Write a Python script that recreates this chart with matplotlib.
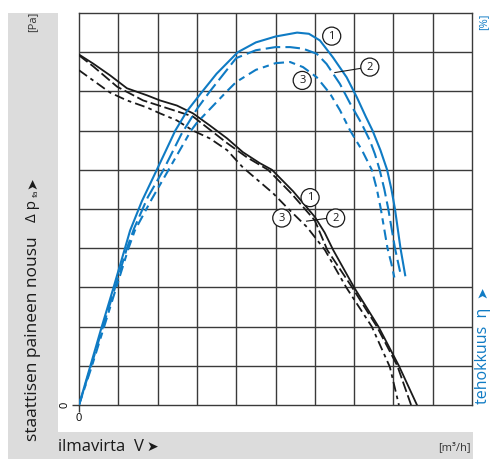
import matplotlib.pyplot as plt
from matplotlib.patches import Rectangle, Circle

W, H = 492, 459
BLUE = '#0f7bc4'
GRAY = '#dcdcdc'

# pressure curves (grid units: x = air flow, y = static pressure rise)
p1_x = [0, 0.36, 0.79, 1.22, 1.73, 2.06, 2.49, 2.9, 3.33, 3.77, 4.17, 4.6, 4.91, 5.45, 6.0, 6.25, 6.47, 7.0, 7.62, 8.14, 8.6]
p1_y = [8.94, 8.71, 8.41, 8.08, 7.9, 7.77, 7.64, 7.44, 7.13, 6.8, 6.45, 6.17, 6.0, 5.45, 4.8, 4.4, 3.95, 3.0, 2.0, 1.0, 0]
p2_x = [0, 0.36, 0.97, 1.63, 2.9, 3.77, 4.27, 4.81, 5.4, 6.0, 6.32, 6.95, 7.58, 8.1, 8.45]
p2_y = [8.92, 8.64, 8.12, 7.77, 7.36, 6.68, 6.32, 6.0, 5.4, 4.71, 3.95, 3.0, 2.0, 1.0, 0]
p3_x = [0, 0.36, 0.79, 1.22, 1.73, 2.06, 2.49, 2.9, 3.33, 3.77, 4.17, 4.94, 5.29, 5.8, 6.26, 6.8, 7.45, 7.91, 8.14]
p3_y = [8.54, 8.28, 7.97, 7.77, 7.59, 7.44, 7.26, 7.0, 6.8, 6.5, 6.06, 5.4, 5.04, 4.54, 3.95, 3.0, 2.0, 0.97, 0]

# efficiency curves (same grid, right scale)
e1_x = [0, 0.29, 0.58, 0.88, 1.17, 1.3, 1.6, 1.98, 2.45, 2.75, 3.1, 3.5, 4.04, 4.5, 5.0, 5.55, 5.85, 6.13,
        6.46, 6.81, 7.07, 7.3, 7.47, 7.67, 7.84, 7.95, 8.04, 8.18, 8.3]
e1_y = [0, 1, 2, 3, 4, 4.45, 5.2, 6.0, 7.0, 7.5, 7.95, 8.45, 9.0, 9.25, 9.4, 9.5, 9.47, 9.3,
        8.87, 8.36, 7.85, 7.35, 7.0, 6.5, 6.0, 5.5, 5.0, 4.0, 3.31]
e2_x = [0, 0.31, 0.61, 0.92, 1.22, 1.4, 1.75, 2.15, 2.6, 3.0, 3.33, 4.0, 4.5, 5.0, 5.37, 5.7, 6.05, 6.3,
        6.64, 6.9, 7.19, 7.4, 7.53, 7.65, 7.77, 7.87, 8.04, 8.17]
e2_y = [0, 1, 2, 3, 4, 4.5, 5.3, 6.0, 6.9, 7.55, 8.0, 8.85, 9.05, 9.13, 9.13, 9.09, 8.96, 8.7,
        8.19, 7.69, 7.18, 6.75, 6.4, 6.0, 5.5, 5.0, 4.0, 3.4]
e3_x = [0, 0.33, 0.64, 0.95, 1.26, 1.42, 1.85, 2.28, 2.85, 3.0, 3.76, 4.0, 4.5, 5.0, 5.37, 5.7, 6.05, 6.39,
        6.64, 6.9, 7.2, 7.45, 7.58, 7.68, 7.85, 7.95, 8.04]
e3_y = [0, 1, 2, 3, 4, 4.45, 5.25, 6.0, 7.0, 7.2, 8.0, 8.24, 8.55, 8.72, 8.75, 8.62, 8.36, 7.94,
        7.52, 7.0, 6.5, 6.0, 5.5, 5.0, 4.0, 3.6, 3.18]

grid_lines = [1, 2, 3, 4, 5, 6, 7, 8, 9]

# curve labels: (number, x, y)
p_labels = [('1', 5.88, 5.29), ('2', 6.53, 4.77), ('3', 5.16, 4.77)]
e_labels = [('1', 6.43, 9.41), ('2', 7.4, 8.62), ('3', 5.68, 8.28)]

FONT = ['Open Sans', 'DejaVu Sans']
plt.rcParams['font.family'] = FONT


def fx(px):
    return px / W


def fy(py):
    return 1 - py / H


fig = plt.figure(figsize=(W / 100, H / 100), dpi=100)

# gray L-shaped background
fig.patches.append(Rectangle((fx(8), 0), fx(50), 1 - 13 / H, transform=fig.transFigure,
                             facecolor=GRAY, edgecolor='none', zorder=0))
fig.patches.append(Rectangle((fx(8), 0), fx(465), 27 / H, transform=fig.transFigure,
                             facecolor=GRAY, edgecolor='none', zorder=0))

ax = fig.add_axes([fx(79), fy(405), fx(393), 392 / H])
ax.set_xlim(0, 10)
ax.set_ylim(0, 10)
for g in grid_lines:
    ax.axvline(g, color='#3a3a3a', lw=1.0, zorder=1)
    ax.axhline(g, color='#3a3a3a', lw=1.0, zorder=1)
for s in ax.spines.values():
    s.set_color('#3a3a3a')
    s.set_linewidth(1.0)

ax.set_xticks([0])
ax.set_yticks([0])
ax.set_xticklabels(['0'], fontsize=8)
ax.set_yticklabels(['0'], fontsize=8, rotation=90, va='center')
ax.tick_params(length=5, width=1, color='#3a3a3a', pad=1)

lw = 1.3
ax.plot(p1_x, p1_y, color='#1a1a1a', lw=lw, zorder=3)
ax.plot(p2_x, p2_y, color='#1a1a1a', lw=lw, ls=(0, (6, 2)), zorder=3)
ax.plot(p3_x, p3_y, color='#1a1a1a', lw=lw, ls=(0, (5.5, 2.3, 2, 2.3)), zorder=3)

ax.plot(e1_x, e1_y, color=BLUE, lw=lw + 0.2, zorder=3)
ax.plot(e2_x, e2_y, color=BLUE, lw=lw + 0.2, ls=(0, (7, 2.5)), zorder=3)
ax.plot(e3_x, e3_y, color=BLUE, lw=lw + 0.2, ls=(0, (5, 2.5, 3, 2.5)), zorder=3)

# leader lines for the "2" labels
ax.plot([5.79, 6.3], [4.69, 4.76], color='#1a1a1a', lw=0.8, zorder=4)
ax.plot([6.51, 7.18], [8.48, 8.59], color='#1a1a1a', lw=0.8, zorder=4)

for num, x, y in p_labels + e_labels:
    ax.add_patch(Circle((x, y), 0.23, facecolor='white', edgecolor='#1a1a1a', lw=0.9, zorder=5))
    ax.text(x, y, num, ha='center', va='center', fontsize=8, color='#1a1a1a', zorder=6)

# axis texts
fig.text(fx(33), fy(22), '[Pa]', rotation=90, ha='center', va='center', fontsize=8, color='#333333')
fig.text(fx(33), fy(339), 'staattisen paineen nousu', rotation=90, ha='center', va='center',
         fontsize=12.5, color='#1a1a1a')
fig.text(fx(33), fy(211), 'Δ p', rotation=90, ha='center', va='center', fontsize=11, color='#1a1a1a')
fig.text(fx(36), fy(193), 'fa', rotation=90, ha='center', va='center', fontsize=6, color='#1a1a1a')
fig.text(fx(33), fy(183), '➤', rotation=90, ha='center', va='center', fontsize=10, color='#1a1a1a')

fig.text(fx(58), fy(447), 'ilmavirta  V', ha='left', va='center', fontsize=12, color='#1a1a1a')
fig.text(fx(146), fy(447), '➤', ha='left', va='center', fontsize=10, color='#1a1a1a')
fig.text(fx(471), fy(448), '[m³/h]', ha='right', va='center', fontsize=8, color='#333333')

fig.text(fx(484), fy(22), '[%]', rotation=90, ha='center', va='center', fontsize=8, color=BLUE)
fig.text(fx(483), fy(404), 'tehokkuus  η', rotation=90, ha='center', va='bottom', fontsize=11.5, color=BLUE)
fig.text(fx(483), fy(292), '➤', rotation=90, ha='center', va='center', fontsize=10, color=BLUE)

fig.savefig('out.png', dpi=100)
